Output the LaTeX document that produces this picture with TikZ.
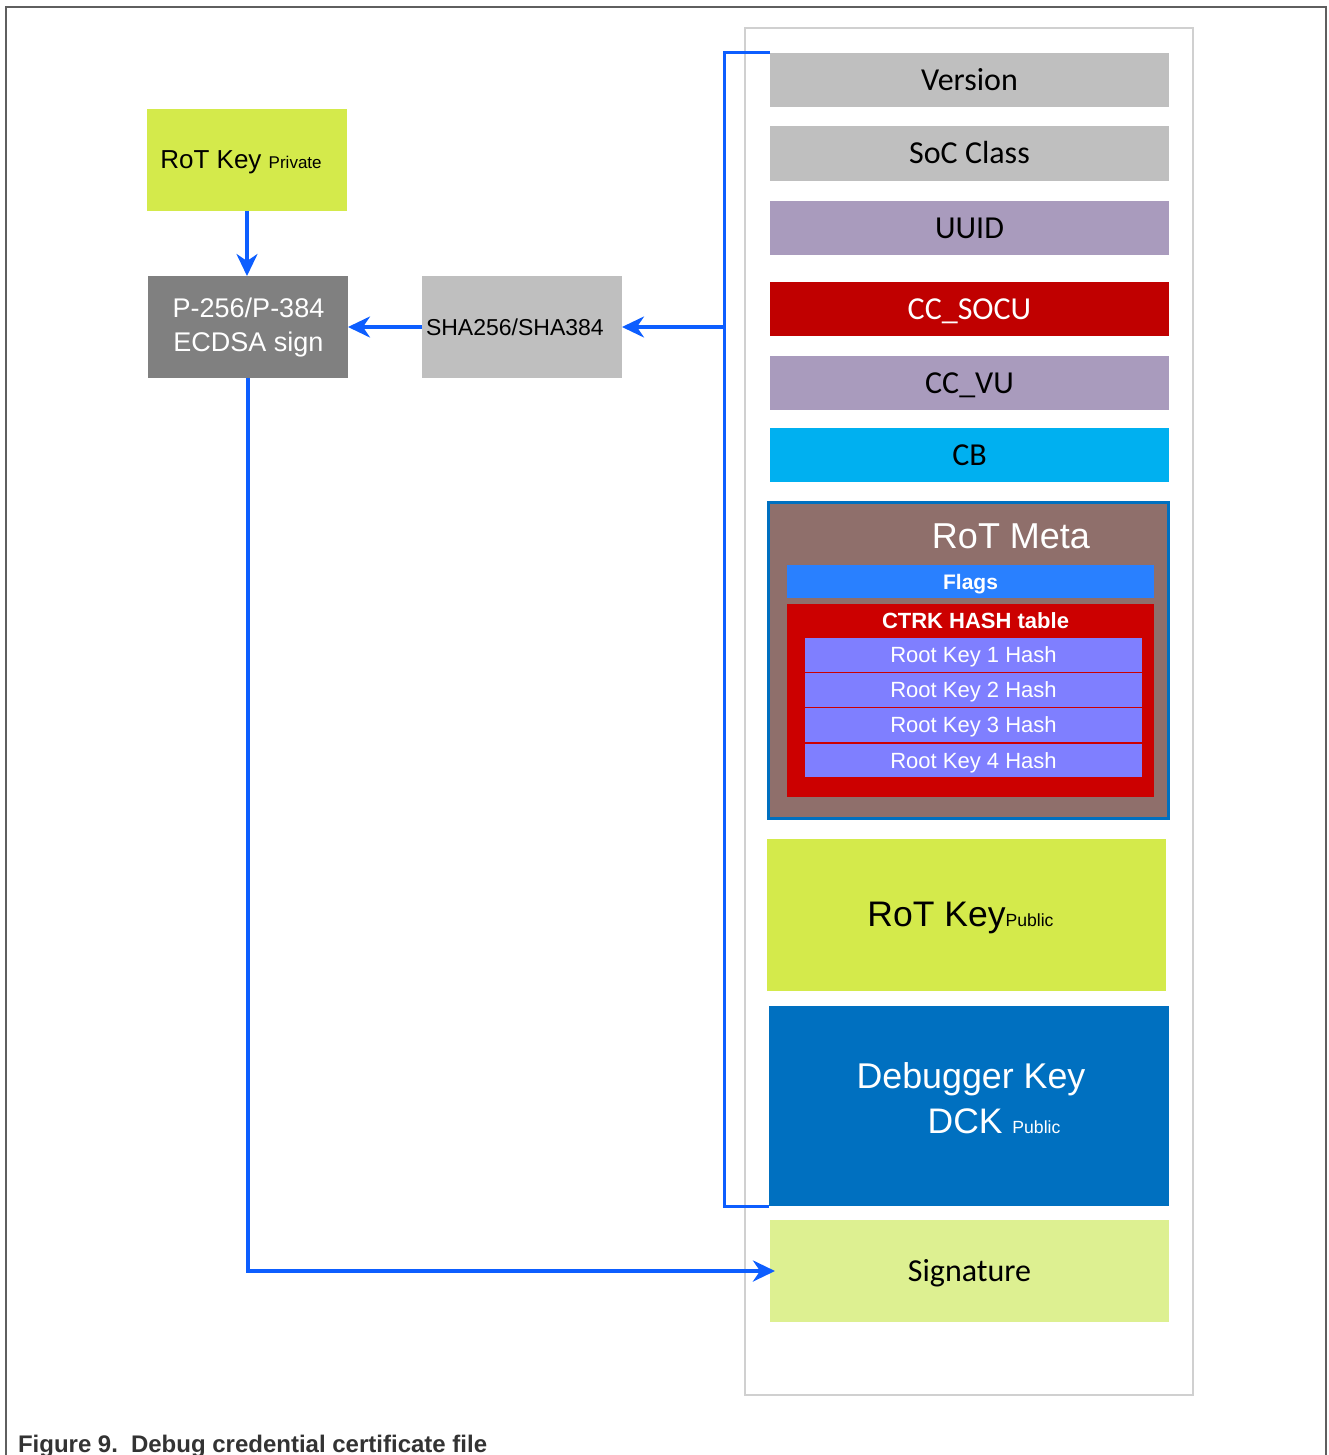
\documentclass[tikz,border=0pt]{standalone}
\usepackage{fontspec}
\setmainfont{Liberation Sans}
\newfontfamily\calfont{Carlito}
\usetikzlibrary{arrows.meta}

\newcommand\setfs[1]{\fontsize{#1}{#1}\selectfont}

\definecolor{linkblue}{RGB}{13,94,255}
\definecolor{fieldgray}{RGB}{191,191,191}
\definecolor{lavender}{RGB}{169,155,189}
\definecolor{socured}{RGB}{192,0,0}
\definecolor{cbcyan}{RGB}{0,176,240}
\definecolor{metabrown}{RGB}{143,111,107}
\definecolor{metaedge}{RGB}{0,112,192}
\definecolor{flagblue}{RGB}{41,128,255}
\definecolor{ctrkred}{RGB}{204,0,0}
\definecolor{hashblue}{RGB}{127,127,255}
\definecolor{keygreen}{RGB}{212,234,75}
\definecolor{dckblue}{RGB}{0,112,192}
\definecolor{siggreen}{RGB}{221,240,145}
\definecolor{signgray}{RGB}{128,128,128}
\definecolor{framegray}{RGB}{95,95,95}
\definecolor{boxedge}{RGB}{208,208,208}
\definecolor{captiongray}{RGB}{51,51,51}

\begin{document}
\begin{tikzpicture}[x=1pt,y=-1pt,
  block/.style={inner sep=0pt, outer sep=0pt, draw=none},
  field/.style={block, minimum width=399pt, minimum height=54pt,
    font=\calfont\setfs{32}, text height=21pt, text depth=0pt},
  hashrow/.style={block, fill=hashblue, minimum width=337pt, minimum height=34pt,
    text=white, font=\setfs{22}, text height=15.8pt, text depth=0pt},
  tag/.style={inner sep=0pt, outer sep=0pt, anchor=base},
  link/.style={draw=linkblue, line width=3.2pt,
    -{Stealth[length=22pt,width=21pt,inset=7pt]}},
  bracket/.style={draw=linkblue, line width=3pt},
]
\useasboundingbox (0,0) rectangle (1328,1455);

% page frame, open at the bottom
\draw[framegray, line width=1.5pt] (6,1456) -- (6,7) -- (1326,7) -- (1326,1456);

% certificate container
\node[block, draw=boxedge, line width=2pt, minimum width=448pt, minimum height=1367pt]
  (cert) at (969,711.5) {};

% certificate fields
\node[field, fill=fieldgray] (version) at (969.5,80) {Version};
\node[field, fill=fieldgray, minimum height=55pt] (soc) at (969.5,153.5) {SoC Class};
\node[field, fill=lavender] (uuid) at (969.5,228) {UUID};
\node[field, fill=socured, text=white] (socu) at (969.5,309) {CC\_SOCU};
\node[field, fill=lavender] (vu) at (969.5,383) {CC\_VU};
\node[field, fill=cbcyan] (cb) at (969.5,455) {CB};

% RoT meta block
\node[block, fill=metabrown, draw=metaedge, line width=3pt,
  minimum width=400pt, minimum height=316pt] (meta) at (968,660) {};
\node[tag, text=white, font=\setfs{36}] (metatitle) at (1011,548) {RoT Meta};
\node[block, fill=flagblue, minimum width=367pt, minimum height=33pt,
  text=white, font=\bfseries\setfs{21}, text height=15pt, text depth=0pt]
  (flags) at (970.5,581.5) {Flags};
\node[block, fill=ctrkred, minimum width=367pt, minimum height=193pt]
  (ctrk) at (970.5,700.5) {};
\node[tag, text=white, font=\bfseries\setfs{22}] (ctrktitle) at (975.5,628) {CTRK HASH table};
\node[hashrow] (rk1) at (973.5,655) {Root Key 1 Hash};
\node[hashrow] (rk2) at (973.5,690) {Root Key 2 Hash};
\node[hashrow] (rk3) at (973.5,725) {Root Key 3 Hash};
\node[hashrow, minimum height=33pt] (rk4) at (973.5,760.5) {Root Key 4 Hash};

% public keys and signature
\node[block, fill=keygreen, minimum width=399pt, minimum height=152pt] (rotpub) at (966.5,915) {};
\node[tag, font=\setfs{35.5}] (rotpubtext) at (960.5,926) {RoT Key{\setfs{17.6}Public}};
\node[block, fill=dckblue, minimum width=400pt, minimum height=200pt] (dck) at (969,1106) {};
\node[tag, text=white, font=\setfs{35.8}] (dcktext1) at (971,1088) {Debugger Key};
\node[tag, text=white, font=\setfs{35.5}] (dcktext2) at (994,1133) {DCK {\setfs{17.6}Public}};
\node[field, fill=siggreen, minimum height=102pt] (sig) at (969.5,1271) {Signature};

% signing chain
\node[block, fill=keygreen, minimum width=200pt, minimum height=102pt] (rotpriv) at (247,160) {};
\node[tag, font=\setfs{26}] (rotprivtext) at (241,169) {RoT Key {\setfs{17}Private}};
\node[block, fill=signgray, minimum width=200pt, minimum height=102pt] (ecdsa) at (248,327) {};
\node[tag, text=white, font=\setfs{27}] (ecdsatext1) at (248.5,317) {P-256/P-384};
\node[tag, text=white, font=\setfs{27}] (ecdsatext2) at (248.5,351) {ECDSA sign};
\node[block, fill=fieldgray, minimum width=200pt, minimum height=102pt] (sha) at (522,327) {};
\node[tag, anchor=base west, font=\setfs{23}] (shatext) at (426,335) {SHA256/SHA384};

% connectors
\coordinate (spine) at (724,327);
\draw[bracket] (version.north west) -- (version.north west -| spine)
  -- (dck.south west -| spine) -- (dck.south west);
\draw[link] (spine) -- (sha.east);
\draw[link] (sha.west) -- (ecdsa.east);
\draw[link] (rotpriv.south) -- (rotpriv.south |- ecdsa.north);
\draw[link, line width=4pt, shorten >=-5pt] (ecdsa.south) |- (sig.west);

% caption
\node[tag, anchor=base west, text=captiongray, font=\bfseries\setfs{24}] (caption)
  at (18,1452) {Figure 9.\hspace{13pt}Debug credential certificate file};
\end{tikzpicture}
\end{document}
